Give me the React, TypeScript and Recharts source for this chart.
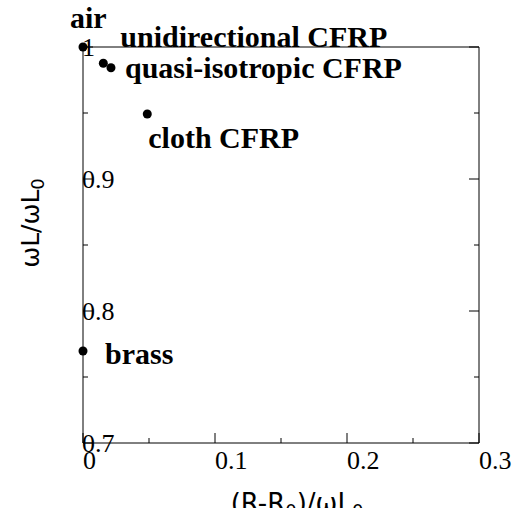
import React from 'react';
import { ScatterChart, Scatter, XAxis, YAxis } from 'recharts';

// samples and their normalised resistance / inductance
const samples = ['air', 'unidirectional CFRP', 'quasi-isotropic CFRP', 'cloth CFRP', 'brass'];
const resistance = [0, 0.0154, 0.0212, 0.0487, 0];
const inductance = [1.0, 0.9877, 0.9843, 0.9492, 0.7697];

const xTicks = [0, 0.05, 0.1, 0.15, 0.2, 0.25, 0.3];
const yTicks = [0.7, 0.75, 0.8, 0.85, 0.9, 0.95, 1.0];

// where each sample's label sits relative to its dot (px)
const labelOffsets: Record<string, [number, number]> = {
    air: [-13, -19],
    'unidirectional CFRP': [17, -16],
    'quasi-isotropic CFRP': [14, 10],
    'cloth CFRP': [1, 34],
    brass: [22, 13],
};

const data = samples.map((name, i) => ({ name, r: resistance[i], l: inductance[i] }));

const SERIF = '"Liberation Serif", "Times New Roman", serif';
const SANS = '"DejaVu Sans", sans-serif';
const MAJOR = 10;
const MINOR = 5;

const isMajor = (v: number) => Math.round(v * 100) % 10 === 0;

const BottomTick = ({ x, y, payload }: any) => {
    const v = payload.value;
    const len = isMajor(v) ? MAJOR : MINOR;
    return (
        <g>
            <line x1={x} y1={y} x2={x} y2={y - len} stroke="#000" strokeWidth={1} />
            {isMajor(v) && (
                <text x={x} y={y + 26} fontFamily={SERIF} fontSize={26} fill="#000" textAnchor="start">
                    {String(v)}
                </text>
            )}
        </g>
    );
};

const TopTick = ({ x, y, payload }: any) => {
    const len = isMajor(payload.value) ? MAJOR : MINOR;
    return <line x1={x} y1={y} x2={x} y2={y + len} stroke="#000" strokeWidth={1} />;
};

const LeftTick = ({ x, y, payload }: any) => {
    const v = payload.value;
    const len = isMajor(v) ? MAJOR : MINOR;
    return (
        <g>
            <line x1={x} y1={y} x2={x + len} y2={y} stroke="#000" strokeWidth={1} />
            {isMajor(v) && (
                <text x={x - 1} y={y + 9} fontFamily={SERIF} fontSize={26} fill="#000" textAnchor="start">
                    {String(v)}
                </text>
            )}
        </g>
    );
};

const RightTick = ({ x, y, payload }: any) => {
    const len = isMajor(payload.value) ? MAJOR : MINOR;
    return <line x1={x} y1={y} x2={x - len} y2={y} stroke="#000" strokeWidth={1} />;
};

const Dot = ({ cx, cy, payload }: any) => {
    const [dx, dy] = labelOffsets[payload.name] || [10, 0];
    return (
        <g>
            <circle cx={cx} cy={cy} r={4.5} fill="#000" />
            <text x={cx + dx} y={cy + dy} fontFamily={SERIF} fontWeight="bold" fontSize={30} fill="#000">
                {payload.name}
            </text>
        </g>
    );
};

export default function App() {
    return (
        <div style={{ width: 521, height: 508 }}>
            <style>{'body{margin:0}'}</style>
            <ScatterChart width={521} height={508} margin={{ top: 0, right: 0, bottom: 0, left: 0 }}>
                <XAxis
                    xAxisId="b"
                    dataKey="r"
                    type="number"
                    domain={[0, 0.3]}
                    ticks={xTicks}
                    interval={0}
                    height={65}
                    tickSize={0}
                    tickMargin={0}
                    tickLine={false}
                    axisLine={{ stroke: '#000' }}
                    tick={<BottomTick />}
                />
                <XAxis
                    xAxisId="t"
                    orientation="top"
                    type="number"
                    domain={[0, 0.3]}
                    ticks={xTicks}
                    interval={0}
                    height={47}
                    tickSize={0}
                    tickMargin={0}
                    tickLine={false}
                    axisLine={{ stroke: '#000' }}
                    tick={<TopTick />}
                    allowDataOverflow
                />
                <YAxis
                    yAxisId="l"
                    dataKey="l"
                    type="number"
                    domain={[0.7, 1.0]}
                    ticks={yTicks}
                    interval={0}
                    width={83}
                    tickSize={0}
                    tickMargin={0}
                    tickLine={false}
                    axisLine={{ stroke: '#000' }}
                    tick={<LeftTick />}
                />
                <YAxis
                    yAxisId="r"
                    orientation="right"
                    type="number"
                    domain={[0.7, 1.0]}
                    ticks={yTicks}
                    interval={0}
                    width={42}
                    tickSize={0}
                    tickMargin={0}
                    tickLine={false}
                    axisLine={{ stroke: '#000' }}
                    tick={<RightTick />}
                    allowDataOverflow
                />
                <Scatter
                    data={data}
                    xAxisId="b"
                    yAxisId="l"
                    shape={<Dot />}
                    isAnimationActive={false}
                />
                <text x={297} y={512} textAnchor="middle" fontFamily={SANS} fontSize={26} fill="#000">
                    (R-R<tspan fontSize={18} dy={5}>0</tspan>
                    <tspan dy={-5}>)/ωL</tspan>
                    <tspan fontSize={18} dy={5}>0</tspan>
                </text>
                <text
                    x={39}
                    y={223}
                    textAnchor="middle"
                    fontFamily={SANS}
                    fontSize={25}
                    fill="#000"
                    transform="rotate(-90 39 223)"
                >
                    ωL/ωL<tspan fontSize={18} dy={5}>0</tspan>
                </text>
            </ScatterChart>
        </div>
    );
}
